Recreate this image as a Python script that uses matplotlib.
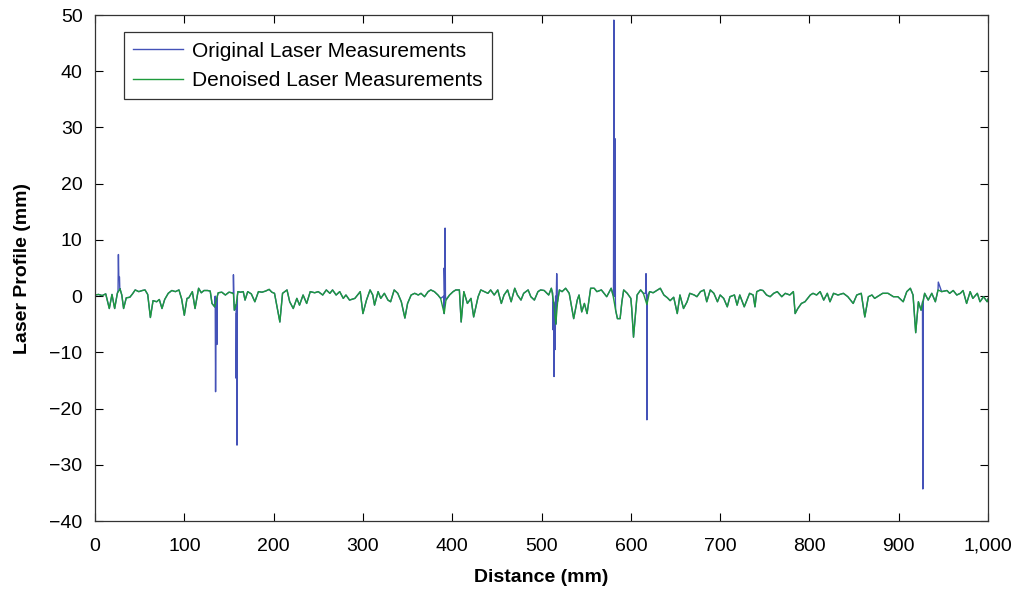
import numpy as np
import matplotlib
matplotlib.use("Agg")
import matplotlib.pyplot as plt
from matplotlib.ticker import FuncFormatter

plt.rcParams['font.family'] = ['Liberation Sans', 'DejaVu Sans']

# denoised profile (distance mm, height mm)
dist = [0, 4, 8, 12, 16, 19, 22, 25, 28, 30, 32, 35, 39, 42, 45, 49, 53, 56, 59, 62,
        65, 69, 72, 75, 78, 82, 86, 90, 94, 97, 100, 103, 105, 109, 112, 116, 119, 122, 126, 129,
        131, 134, 136, 138, 142, 146, 150, 153, 155, 156, 158, 160, 163, 166, 168, 171, 175, 179, 183, 187,
        191, 195, 198, 201, 204, 207, 210, 215, 218, 222, 226, 229, 233, 237, 241, 246, 250, 255, 259, 263,
        266, 270, 274, 278, 281, 285, 291, 297, 300, 304, 308, 311, 313, 317, 320, 324, 328, 331, 335, 339,
        343, 347, 350, 354, 358, 362, 365, 369, 373, 376, 380, 384, 387, 391, 393, 397, 401, 404, 408, 410,
        413, 417, 421, 424, 429, 432, 436, 440, 443, 447, 451, 455, 458, 462, 466, 470, 473, 477, 480, 485,
        488, 492, 496, 499, 503, 508, 511, 514, 516, 518, 520, 523, 527, 531, 534, 536, 540, 542, 545, 548,
        551, 555, 559, 562, 567, 570, 573, 578, 580, 583, 585, 588, 590, 592, 596, 600, 601, 603, 607, 611,
        614, 618, 621, 625, 629, 633, 637, 641, 644, 648, 652, 655, 659, 663, 666, 671, 674, 678, 682, 685,
        689, 693, 697, 700, 704, 708, 711, 716, 719, 722, 727, 730, 733, 737, 739, 741, 745, 748, 752, 756,
        760, 764, 769, 773, 778, 782, 784, 787, 791, 795, 801, 804, 808, 812, 816, 820, 823, 827, 832, 838,
        843, 849, 853, 858, 862, 866, 870, 873, 876, 882, 888, 894, 899, 905, 909, 913, 916, 919, 922, 925,
        929, 933, 937, 941, 944, 948, 954, 957, 961, 965, 969, 972, 976, 980, 983, 988, 991, 995, 999, 1000]
denoised = [0.2, 0.3, 0.1, 0.4, -2.2, 0.3, -2.2, 0.5, 1.3, 0.2, -2.2, -0.3, -0.2, 0.4, 1.1, 0.8, 1.0, 1.1, 0.3, -3.8,
            -0.8, -1.0, -0.6, -2.2, -0.6, 0.5, 1.0, 0.8, 1.1, -0.5, -3.4, -0.4, -0.3, 0.8, -2.2, 1.4, 0.6, 1.0, 1.0, 0.9,
            -1.3, -1.9, -0.5, 0.6, 0.7, 0.2, 0.7, 0.6, 0.4, -2.5, -1.5, 0.8, 0.7, 0.8, -0.7, 0.8, 0.4, -1.0, 0.8, 0.7,
            0.9, 1.2, 0.7, 0.5, -2.0, -4.6, 0.5, 1.1, -1.0, -2.2, -0.4, -1.6, 0.2, -1.3, 0.8, 0.6, 0.8, 0.2, 1.1, 0.5,
            1.1, 0.2, 0.8, -0.4, 0.2, -0.7, -0.4, 0.8, -3.1, -0.7, 1.1, 0.2, -1.6, 0.8, -0.4, 0.5, -0.7, -1.0, 1.1, 0.5,
            -1.0, -3.9, -1.3, 0.2, 0.5, 0.2, 0.5, -0.1, 0.8, 1.1, 0.8, 0.2, -0.4, -3.1, -0.7, 0.2, 0.8, 1.1, 1.1, -4.6,
            0.8, -1.3, -0.4, -3.7, -0.1, 1.1, 0.8, 0.5, 1.1, 0.2, 1.1, -1.3, 0.2, 1.1, -1.0, 1.4, 0.2, -0.7, 0.5, 1.1,
            -0.1, -0.7, 0.8, 1.1, 1.0, 0.2, 1.4, -1.5, -5.0, -1.0, 1.1, 0.8, 1.4, 0.5, -2.2, -4.0, -0.7, 0.2, -2.8, -1.3,
            -3.1, 1.4, 1.4, 0.8, 1.1, 0.5, -0.1, 1.4, 0.2, -2.5, -4.0, -4.0, -1.0, 1.1, 0.5, -0.4, -2.2, -7.3, 0.2, 1.1,
            0.5, -1.5, 0.8, 0.6, 1.0, 1.4, 0.2, -0.3, -0.8, -0.2, -3.1, 0.2, -2.2, -1.0, 0.5, 0.2, -0.1, 0.8, 1.1, -1.0,
            1.1, 0.5, -1.0, 0.2, -0.4, -1.9, -0.1, 0.2, -1.6, 0.2, -1.9, -0.7, 0.5, 0.2, -1.9, 0.8, 1.1, 1.0, 0.2, -0.1,
            0.5, 0.8, -0.1, 0.5, 0.2, 0.8, -3.1, -2.2, -1.3, -1.0, 0.2, 0.5, 0.2, 0.8, -0.7, 0.5, -1.0, 0.5, 0.2, 0.5,
            -0.1, -1.3, 0.2, 0.5, -3.7, -0.1, 0.2, -0.4, -0.1, 0.5, 0.5, -0.1, -0.1, -1.0, 0.8, 1.4, 0.2, -6.5, -1.0, -2.5,
            0.5, -0.7, 0.5, -1.0, 1.1, 0.8, 1.0, 0.5, 1.0, 0.2, 0.5, 1.0, -1.3, 0.8, -0.4, 0.5, -1.0, -0.1, -1.0, -0.5]

# outlier spikes present only in the original measurements
spike_dist = [25.8, 26.2, 26.6, 27.4, 27.8,
              134.6, 135.0, 135.5, 136.5, 137.0,
              154.6, 155.0, 155.4, 157.5, 158.0, 158.5, 159.0, 159.4,
              390.6, 391.0, 391.5, 392.0, 392.4,
              512.6, 513.0, 513.5, 514.0, 514.5, 515.2, 515.8, 517.0, 517.5,
              580.6, 581.0, 581.5, 582.3, 582.7,
              616.6, 617.0, 617.5, 618.0, 618.4,
              926.6, 927.0, 927.4,
              944.3]
spike_val = [1.0, 7.4, 3.6, 3.4, 1.0,
             0.0, -17.0, -1.0, -8.6, 0.0,
             0.5, 3.8, 0.0, -2.0, -14.6, -3.0, -26.5, 0.0,
             0.0, 5.0, 1.0, 12.1, 0.0,
             0.5, -6.0, -1.0, -14.3, -2.0, -9.5, 0.0, 4.0, 0.5,
             0.5, 49.1, 0.0, 28.0, -1.0,
             0.5, 4.0, 0.0, -22.0, 0.0,
             -1.0, -34.3, -1.0,
             2.5]

orig_x = np.concatenate([dist, spike_dist])
orig_y = np.concatenate([denoised, spike_val])
order = np.argsort(orig_x, kind='stable')
orig_x, orig_y = orig_x[order], orig_y[order]

fig = plt.figure(figsize=(10.14, 5.91), dpi=100)
ax = fig.add_axes([0.0937, 0.1184, 0.8807, 0.8562])

ax.plot(orig_x, orig_y, color='#4452b8', lw=1.0, label='Original Laser Measurements')
ax.plot(dist, denoised, color='#1e9a3c', lw=1.0, label='Denoised Laser Measurements')

ax.set_xlim(0, 1000)
ax.set_ylim(-40, 50)
ax.set_xticks(np.arange(0, 1001, 100))
ax.set_yticks(np.arange(-40, 51, 10))
ax.xaxis.set_major_formatter(FuncFormatter(lambda v, p: '{:,}'.format(int(v))))
ax.tick_params(direction='in', length=6, width=0.8, top=True, right=True, labelsize=14, pad=9)
ax.tick_params(axis='x', pad=12)
for s in ax.spines.values():
    s.set_linewidth(0.9)
    s.set_color('#333333')

ax.set_xlabel('Distance (mm)', fontsize=14, fontweight='bold', labelpad=10)
ax.set_ylabel('Laser Profile (mm)', fontsize=14, fontweight='bold', labelpad=13)

leg = ax.legend(loc='upper left', bbox_to_anchor=(0.0325, 0.966), borderaxespad=0, fontsize=15,
                handlelength=2.4, handletextpad=0.4, borderpad=0.45, labelspacing=0.5, fancybox=False,
                framealpha=1, edgecolor='#333333')
leg.get_frame().set_linewidth(0.9)

fig.savefig('out.png', dpi=100)
